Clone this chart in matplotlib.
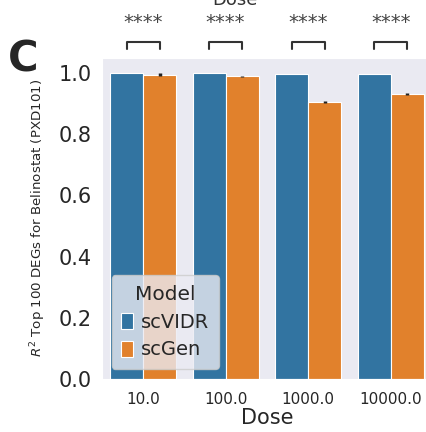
import matplotlib.pyplot as plt
import numpy as np
import seaborn as sns

sns.set_style("dark")
plt.rcParams['font.family'] = ['DejaVu Sans']

doses = ["10.0", "100.0", "1000.0", "10000.0"]
models = ["scVIDR", "scGen"]
scvidr = [0.999, 0.999, 0.998, 0.998]
scgen = [0.995, 0.990, 0.905, 0.932]
scvidr_err = [0.0, 0.0, 0.0, 0.0]
scgen_err = [0.004, 0.001, 0.004, 0.004]
stars = ["****", "****", "****", "****"]

colors = ["#3274a1", "#e1812c"]

fig = plt.figure(figsize=(4.26, 4.32), dpi=100)
ax = fig.add_axes([0.239, 0.123, 0.775, 0.743])

x = np.arange(len(doses))
w = 0.4
for vals, errs, off, c, lab in [(scvidr, scvidr_err, -w / 2, colors[0], models[0]),
                                (scgen, scgen_err, w / 2, colors[1], models[1])]:
    ax.bar(x + off, vals, w, color=c, edgecolor="white", linewidth=0.8, label=lab)
    ax.errorbar(x + off, vals, yerr=errs, fmt="none", ecolor="#222222", lw=2.5)

ax.set_xlim(-0.5, 3.5)
ax.set_ylim(0, 1.05)
ax.set_xticks(x)
ax.set_xticklabels(doses, fontsize=11)
ax.set_yticks([0, 0.2, 0.4, 0.6, 0.8, 1.0])
ax.set_yticklabels(["0.0", "0.2", "0.4", "0.6", "0.8", "1.0"], fontsize=15)
ax.tick_params(axis="x", pad=6)
ax.set_xlabel("Dose", fontsize=15, labelpad=1)
ax.set_ylabel("$R^2$ Top 100 DEGs for Belinostat (PXD101)", fontsize=9.6, labelpad=8)

# title, partly cut off at the top edge as in the source figure
fig.text(235 / 426, 1.0 - 9 / 432, "Dose", ha="center", va="bottom", fontsize=13,
         color="#333333")

# significance brackets
for i, s in enumerate(stars):
    x1, x2 = i - w / 2, i + w / 2
    ax.plot([x1, x1, x2, x2], [1.079, 1.102, 1.102, 1.079], color="#333333",
            lw=1.5, clip_on=False)
    ax.text(i, 1.135, s, ha="center", va="bottom", fontsize=14, color="#444444")

leg = ax.legend(title="Model", loc="lower left", fontsize=14, title_fontsize=14.5,
                handlelength=0.6, handleheight=0.9, handletextpad=0.4,
                borderaxespad=0.5, labelspacing=0.45, borderpad=0.5)
leg.get_frame().set_alpha(0.8)

fig.text(0.018, 1.0 - 71 / 432, "C", fontsize=30, fontweight="bold")

fig.savefig("out.png", dpi=100)
